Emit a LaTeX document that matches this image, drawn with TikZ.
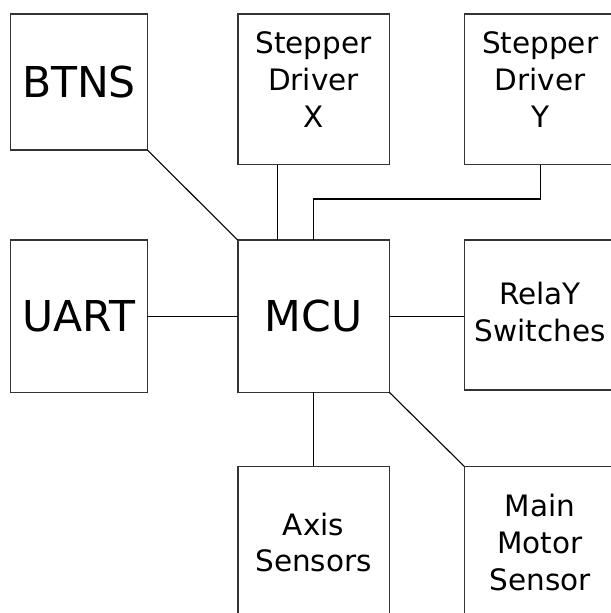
\documentclass[tikz,border=0pt]{standalone}
\usepackage{fontspec}
\setmainfont{DejaVu Sans}
\usepackage{tikz}

\begin{document}
\begin{tikzpicture}[x=1bp, y=-1bp,
	blk/.style={draw=black!80, line width=1.6bp, rectangle, inner sep=0pt, outer sep=0pt,
		align=center, font=\fontsize{29.6}{37.1}\selectfont,
		minimum width=151.6bp, minimum height=152.3bp},
	bigtxt/.style={font=\fontsize{42.7}{48}\selectfont},
	lbl/.style={align=center, inner sep=0pt, font=\fontsize{29.6}{37.1}\selectfont},
	wire/.style={line width=1.1bp, black}]
	\useasboundingbox (0,0) rectangle (611,613);
	\node[blk, bigtxt, minimum width=136.6bp, minimum height=136bp] (btns) at (79,82) {BTNS};
	\node[blk, minimum height=150.5bp] (drvx) at (313.5,89.25) {};
	\node[blk, minimum height=150.5bp] (drvy) at (540.1,89.25) {};
	\node[lbl] (drvxtxt) at (313.5,80) {Stepper\\Driver\\X};
	\node[lbl] (drvytxt) at (540.1,80) {Stepper\\Driver\\Y};
	\node[blk, bigtxt, minimum width=136.6bp] (uart) at (79,316.15) {UART};
	\node[blk, bigtxt] (mcu) at (313.5,316.15) {MCU};
	\node[blk, minimum height=150bp] (relay) at (540.1,315) {};
	\node[lbl] (relaytxt) at (540.1,312) {RelaY\\Switches};
	\node[blk] (axis) at (313.5,542.5) {Axis\\Sensors};
	\node[blk] (motor) at (540.1,542.5) {Main\\Motor\\Sensor};
	\draw[wire] (btns.south east) -- (mcu.north west);
	\draw[wire] ([xshift=-36.2bp]drvx.south) -- ([xshift=-36.2bp]mcu.north);
	\draw[wire] (drvy.south) -- ++(0,34.5) -| (mcu.north);
	\draw[wire] (uart.east) -- (mcu.west);
	\draw[wire] (mcu.east) -- (mcu.east -| relay.west);
	\draw[wire] (mcu.south) -- (axis.north);
	\draw[wire] (mcu.south east) -- (motor.north west);
\end{tikzpicture}
\end{document}
